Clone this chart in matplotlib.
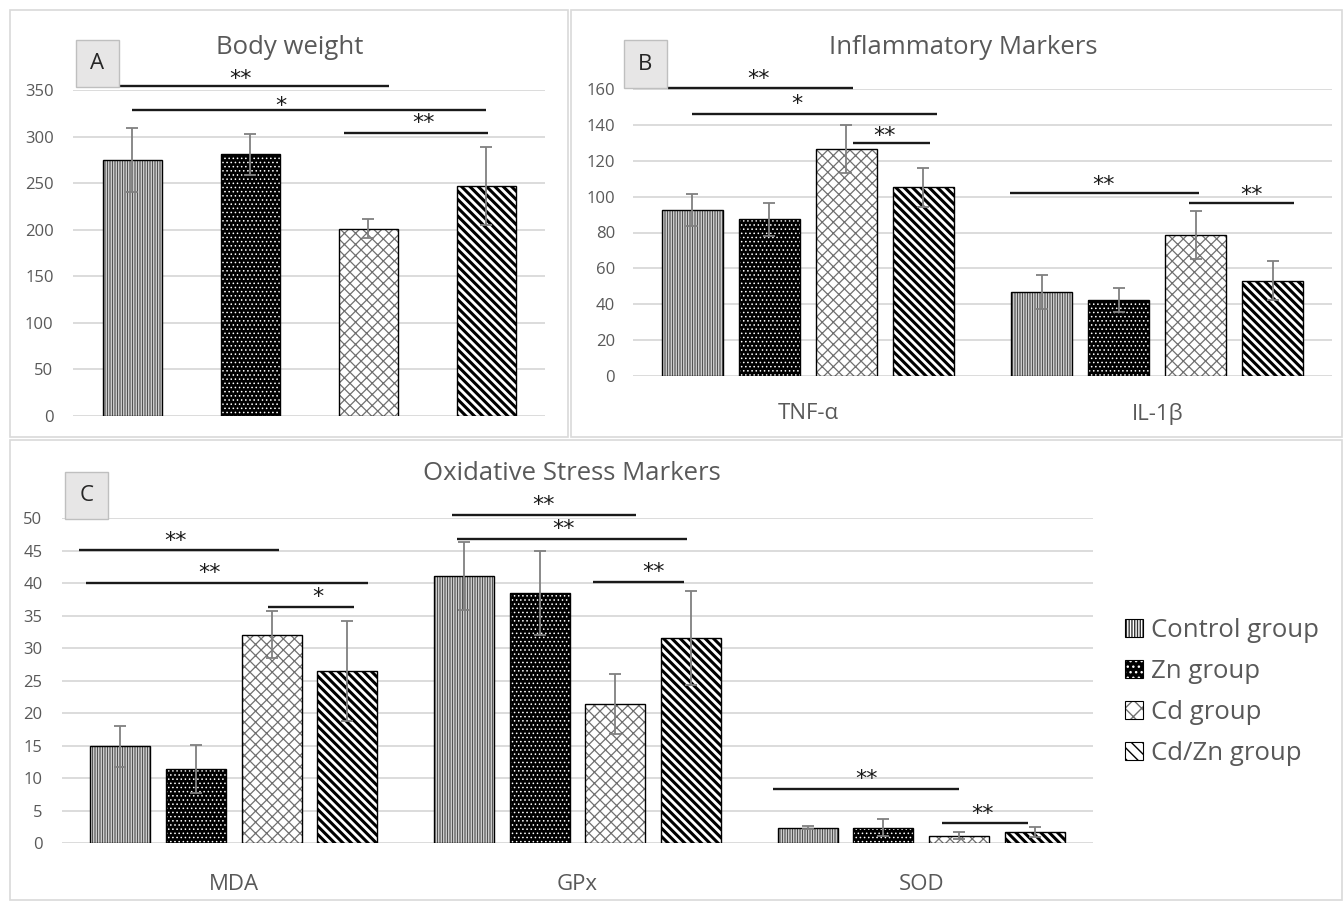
import matplotlib
matplotlib.use('Agg')
import matplotlib.pyplot as plt
from matplotlib.patches import Rectangle, Patch
from matplotlib.legend_handler import HandlerTuple
import numpy as np

# group names and panel categories
groups = ['Control group', 'Zn group', 'Cd group', 'Cd/Zn group']
infl_labels = ['TNF-α', 'IL-1β']
ox_labels = ['MDA', 'GPx', 'SOD']

# panel A: body weight (mean, error)
bw_mean = [275, 281, 201, 247]
bw_err = [34, 22, 10, 42]

# panel B: inflammatory markers
tnf_mean = [92.6, 87.3, 126.6, 105.2]
tnf_err = [9.0, 9.3, 13.4, 11.0]
il1b_mean = [46.7, 42.5, 78.4, 53.1]
il1b_err = [9.3, 6.7, 13.4, 10.8]

# panel C: oxidative stress markers
mda_mean = [14.9, 11.4, 32.1, 26.5]
mda_err = [3.1, 3.7, 3.6, 7.7]
gpx_mean = [41.1, 38.5, 21.4, 31.6]
gpx_err = [5.2, 6.4, 4.6, 7.2]
sod_mean = [2.4, 2.4, 1.2, 1.7]
sod_err = [0.25, 1.3, 0.6, 0.75]

# significance bars: (x start, x end, y, label, label x, label y)
sig_a = [(-0.11, 2.18, 354, '**', 0.92, 369),
         (0.0, 3.0, 328.5, '*', 1.26, 340),
         (1.80, 3.02, 304, '**', 2.47, 321)]
sig_b = [(-0.40, 0.13, 161, '**', -0.14, 169.5),
         (-0.33, 0.37, 146.4, '*', -0.03, 155),
         (0.13, 0.35, 130, '**', 0.22, 137.5),
         (0.58, 1.12, 102.2, '**', 0.845, 110),
         (1.09, 1.39, 96.6, '**', 1.27, 104.7)]
sig_c = [(-0.45, 0.13, 45.1, '**', -0.17, 47.5),
         (-0.43, 0.39, 40.0, '**', -0.07, 42.5),
         (0.10, 0.35, 36.3, '*', 0.245, 38.8),
         (0.635, 1.17, 50.5, '**', 0.90, 53.0),
         (0.65, 1.32, 46.8, '**', 0.96, 49.3),
         (1.045, 1.31, 40.25, '**', 1.22, 42.7),
         (1.57, 2.11, 8.35, '**', 1.84, 10.8),
         (2.06, 2.31, 3.07, '**', 2.18, 5.4)]

# fill, hatch colour, hatch, hatch width, legend hatch
styles = [('white', '#333333', '|' * 10, 0.6, '|' * 6),
          ('black', 'white', '....', 0.6, '...'),
          ('white', '#707070', 'xxx', 0.9, 'xx'),
          ('white', 'black', '\\' * 4, 2.2, '\\' * 3)]

W, H = 1343, 901
GRAY = '#595959'

plt.rcParams['font.family'] = ['Open Sans', 'DejaVu Sans']

fig = plt.figure(figsize=(W / 100, H / 100), dpi=100)


def frect(x0, y0, x1, y1):
    return [x0 / W, 1 - y1 / H, (x1 - x0) / W, (y1 - y0) / H]


def hatched_bars(ax, xs, vals, width, style, z=2):
    face, hc, hatch, hlw, _ = style
    with plt.rc_context({'hatch.linewidth': hlw}):
        bars = ax.bar(xs, vals, width, color=face, edgecolor=hc, hatch=hatch,
                      linewidth=0, zorder=z)
    for b in bars:
        if hasattr(b, 'set_hatch_linewidth'):
            b.set_hatch_linewidth(hlw)
    ax.bar(xs, vals, width, fill=False, edgecolor='black', linewidth=1.0, zorder=z + 1)


def style_axis(ax, ymax, step, pad_y):
    ax.set_ylim(0, ymax)
    ax.set_yticks(np.arange(0, ymax + 0.1, step))
    ax.yaxis.grid(True, color='#d9d9d9', linewidth=1.3)
    ax.set_axisbelow(True)
    for s in ax.spines.values():
        s.set_visible(False)
    ax.tick_params(axis='y', length=0, labelsize=12, labelcolor=GRAY, pad=pad_y)
    ax.tick_params(axis='x', length=0, labelsize=16, labelcolor=GRAY)


def add_sig(ax, sigs, fs=16):
    for x0, x1, y, lab, lx, ly in sigs:
        ax.plot([x0, x1], [y, y], color='#1a1a1a', linewidth=1.7,
                clip_on=False, solid_capstyle='butt', zorder=6)
        ax.annotate(lab, xy=(lx, ly), xytext=(0, -0.55 * fs), textcoords='offset points',
                    ha='center', va='baseline', fontsize=fs, color='#1a1a1a',
                    family='DejaVu Sans', annotation_clip=False, zorder=6)


def panel_box(x0, y0, x1, y1):
    fig.add_artist(Rectangle((x0 / W, 1 - y1 / H), (x1 - x0) / W, (y1 - y0) / H,
                             transform=fig.transFigure, fill=False,
                             edgecolor='#d9d9d9', linewidth=1.2))


def letter_box(x0, y0, x1, y1, letter):
    fig.add_artist(Rectangle((x0 / W, 1 - y1 / H), (x1 - x0) / W, (y1 - y0) / H,
                             transform=fig.transFigure, facecolor='#e7e6e6',
                             edgecolor='#bfbfbf', linewidth=1.0, zorder=5))
    fig.text((x0 + x1) / 2 / W, 1 - (y0 + y1) / 2 / H, letter, ha='center', va='center',
             fontsize=16, color='#262626', zorder=6)


# panel frames
panel_box(10, 10, 568, 437)
panel_box(571, 10, 1342, 437)
panel_box(10, 440, 1342, 900)

# ---- A: body weight
axA = fig.add_axes(frect(73, 90, 545, 416))
xa = np.arange(4)
for i in range(4):
    hatched_bars(axA, [xa[i]], [bw_mean[i]], 0.5, styles[i])
axA.errorbar(xa, bw_mean, yerr=bw_err, fmt='none', ecolor='#808080',
             elinewidth=1.3, capsize=4, capthick=1.3, zorder=5)
axA.set_xlim(-0.5, 3.5)
axA.set_xticks([])
style_axis(axA, 350, 50, 14)
add_sig(axA, sig_a)
fig.text(290 / W, 1 - 47 / H, 'Body weight', ha='center', va='center', fontsize=18.5, color=GRAY)
letter_box(76, 40, 119, 87, 'A')

# ---- B: inflammatory markers
axB = fig.add_axes(frect(633, 89.3, 1332, 375.7))
xb = np.arange(2)
offs = (np.arange(4) - 1.5) * 0.22
b_means = list(zip(tnf_mean, il1b_mean))
b_errs = list(zip(tnf_err, il1b_err))
for i in range(4):
    hatched_bars(axB, xb + offs[i], b_means[i], 0.175, styles[i])
    axB.errorbar(xb + offs[i], b_means[i], yerr=b_errs[i], fmt='none', ecolor='#808080',
                 elinewidth=1.3, capsize=4, capthick=1.3, zorder=5)
axB.set_xlim(-0.5, 1.5)
axB.set_xticks(xb, infl_labels)
axB.tick_params(axis='x', pad=20)
style_axis(axB, 160, 20, 13)
add_sig(axB, sig_b)
fig.text(963 / W, 1 - 47 / H, 'Inflammatory Markers', ha='center', va='center',
         fontsize=18.5, color=GRAY)
letter_box(624, 40, 667, 88, 'B')

# ---- C: oxidative stress markers
axC = fig.add_axes(frect(62, 518.3, 1093, 843.3))
xc = np.arange(3)
c_means = list(zip(mda_mean, gpx_mean, sod_mean))
c_errs = list(zip(mda_err, gpx_err, sod_err))
for i in range(4):
    hatched_bars(axC, xc + offs[i], c_means[i], 0.175, styles[i])
    axC.errorbar(xc + offs[i], c_means[i], yerr=c_errs[i], fmt='none', ecolor='#808080',
                 elinewidth=1.3, capsize=4, capthick=1.3, zorder=5)
axC.set_xlim(-0.5, 2.5)
axC.set_xticks(xc, ox_labels)
axC.tick_params(axis='x', pad=22)
style_axis(axC, 50, 5, 14)
add_sig(axC, sig_c)
fig.text(572 / W, 1 - 474 / H, 'Oxidative Stress Markers', ha='center', va='center',
         fontsize=18.5, color=GRAY)
letter_box(65, 472, 108, 519, 'C')

# legend
handles = []
for face, hc, hatch, hlw, lhatch in styles:
    p1 = Patch(facecolor=face, edgecolor=hc, hatch=lhatch, linewidth=0)
    p2 = Patch(fill=False, edgecolor='black', linewidth=0.8)
    handles.append((p1, p2))
fig.legend(handles, groups, handler_map={tuple: HandlerTuple(ndivide=1, pad=0)},
           loc='center left', bbox_to_anchor=(1125 / W, 1 - 692 / H), frameon=False,
           fontsize=18.5, labelcolor=GRAY, handlelength=0.7, handleheight=0.7,
           handletextpad=0.3, labelspacing=0.62, borderpad=0, borderaxespad=0)

fig.savefig('out.png', dpi=100)
